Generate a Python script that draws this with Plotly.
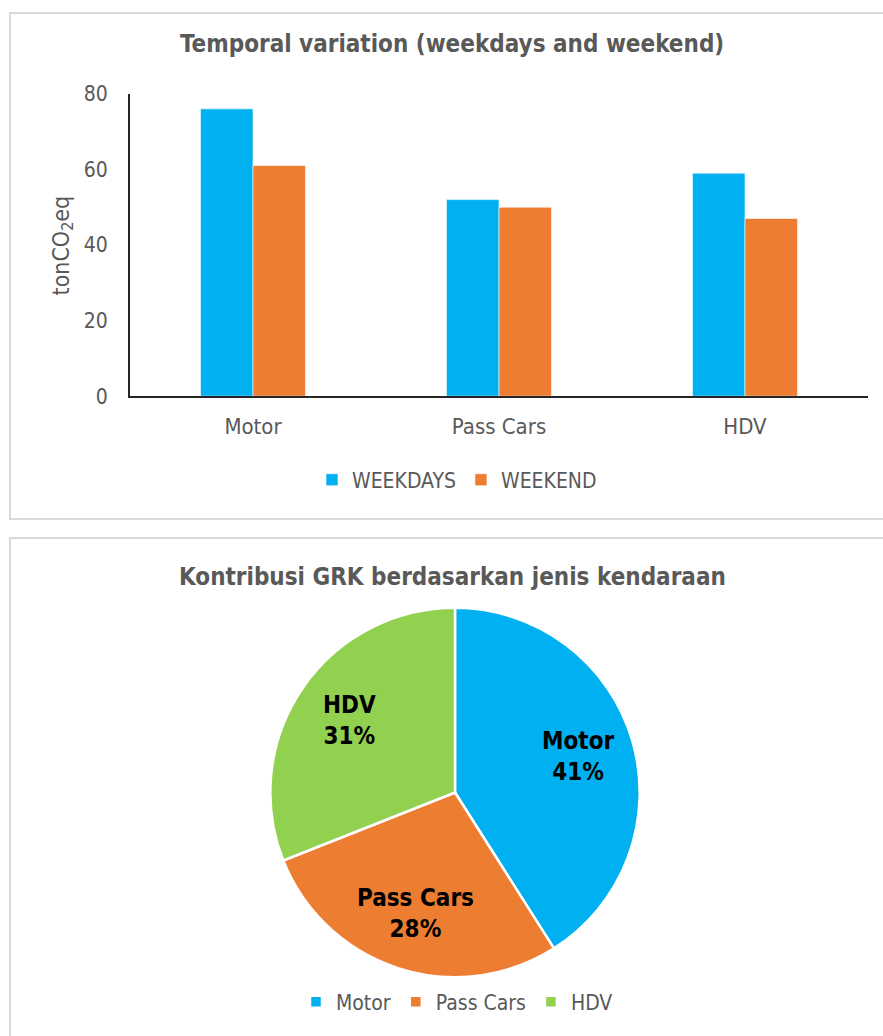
import math
import plotly.graph_objects as go

categories = ["Motor", "Pass Cars", "HDV"]
weekdays = [76, 52, 59]
weekend = [61, 50, 47]
pie_labels = ["Motor", "Pass Cars", "HDV"]
pie_values = [41, 28, 31]
y_ticks = [0, 20, 40, 60, 80]

BLUE = "#00B0F0"
ORANGE = "#ED7D31"
GREEN = "#92D050"
GRAY = "#595959"
FONT = "Liberation Sans Narrow, DejaVu Sans Condensed, Roboto, sans-serif"

W, H = 883, 1036
def px(x):
    return x / W
def py(y):
    # compensate for observed vertical placement in the viewer
    return 1 - ((y - 11.1) / 0.9786) / H

# pie geometry (pixels)
PCX, PCY, PR = 455, 793, 185

fig = go.Figure()
fig.add_trace(go.Bar(x=categories, y=weekdays, name="WEEKDAYS",
                     marker=dict(color=BLUE, line=dict(color="white", width=0.6)), legend="legend"))
fig.add_trace(go.Bar(x=categories, y=weekend, name="WEEKEND",
                     marker=dict(color=ORANGE, line=dict(color="white", width=0.6)), legend="legend"))
fig.add_trace(go.Pie(
    labels=pie_labels, values=pie_values, sort=False, direction="clockwise", rotation=0,
    marker=dict(colors=[BLUE, ORANGE, GREEN], line=dict(color="white", width=2.5)),
    textinfo="none",
    domain=dict(x=[px(PCX - PR), px(PCX + PR)], y=[py(PCY + PR), py(PCY - PR)]),
    legend="legend2", hoverinfo="label+percent",
))

# slice labels placed at each slice's mid-angle, derived from the values
annotations = []
total = sum(pie_values)
cum = 0
for lab, v in zip(pie_labels, pie_values):
    mid = (cum + v / 2) / total * 2 * math.pi
    cum += v
    r = 0.69 * PR
    xpix = PCX + r * math.sin(mid)
    ypix = PCY - r * math.cos(mid)
    pct = round(v / total * 100)
    annotations.append(dict(text=f"<b>{lab}<br>{pct}%</b>", xref="paper", yref="paper",
                            x=px(xpix), y=py(ypix), xanchor="center", yanchor="middle",
                            showarrow=False, font=dict(size=24, color="black", family=FONT)))

annotations += [
    dict(text="<b>Temporal variation (weekdays and weekend)</b>", xref="paper", yref="paper",
         x=px(452), y=py(43), xanchor="center", yanchor="middle", showarrow=False,
         font=dict(size=24, color=GRAY, family=FONT)),
    dict(text="<b>Kontribusi GRK berdasarkan jenis kendaraan</b>", xref="paper", yref="paper",
         x=px(452), y=py(577), xanchor="center", yanchor="middle", showarrow=False,
         font=dict(size=24, color=GRAY, family=FONT)),
    dict(text="tonCO<sub>2</sub>eq", xref="paper", yref="paper", textangle=-90,
         x=px(63), y=py(245), xanchor="center", yanchor="middle", showarrow=False,
         font=dict(size=23, color=GRAY, family=FONT)),
]

fig.update_layout(
    width=W, height=H, margin=dict(l=0, r=0, t=0, b=0, pad=0),
    paper_bgcolor="white", plot_bgcolor="white",
    font=dict(family=FONT, color=GRAY, size=20),
    barmode="group", bargap=0.573, bargroupgap=0,
    xaxis=dict(domain=[px(130), px(868)], showline=True, linecolor="#262626", linewidth=2,
               ticks="", tickfont=dict(size=22, color=GRAY), fixedrange=True, ticklabelstandoff=9),
    yaxis=dict(domain=[py(396), py(93)], range=[0, 80], tickvals=y_ticks, showgrid=False,
               showline=True, linecolor="#262626", linewidth=2, ticks="", zeroline=False,
               tickfont=dict(size=21, color=GRAY), ticklabelstandoff=16),
    legend=dict(orientation="h", x=px(457), xanchor="center", y=py(480), yanchor="middle",
                font=dict(size=21, color=GRAY), itemwidth=30, traceorder="normal"),
    legend2=dict(orientation="h", x=px(457), xanchor="center", y=py(1003), yanchor="middle",
                 font=dict(size=21, color=GRAY), itemwidth=30),
    showlegend=True,
    shapes=[
        dict(type="rect", xref="paper", yref="paper", x0=px(10), x1=px(890), y0=py(519), y1=py(12),
             line=dict(color="#D9D9D9", width=2)),
        dict(type="rect", xref="paper", yref="paper", x0=px(10), x1=px(890), y0=py(1060), y1=py(538),
             line=dict(color="#D9D9D9", width=2)),
    ],
    annotations=annotations,
)

fig.write_html("out.html")
